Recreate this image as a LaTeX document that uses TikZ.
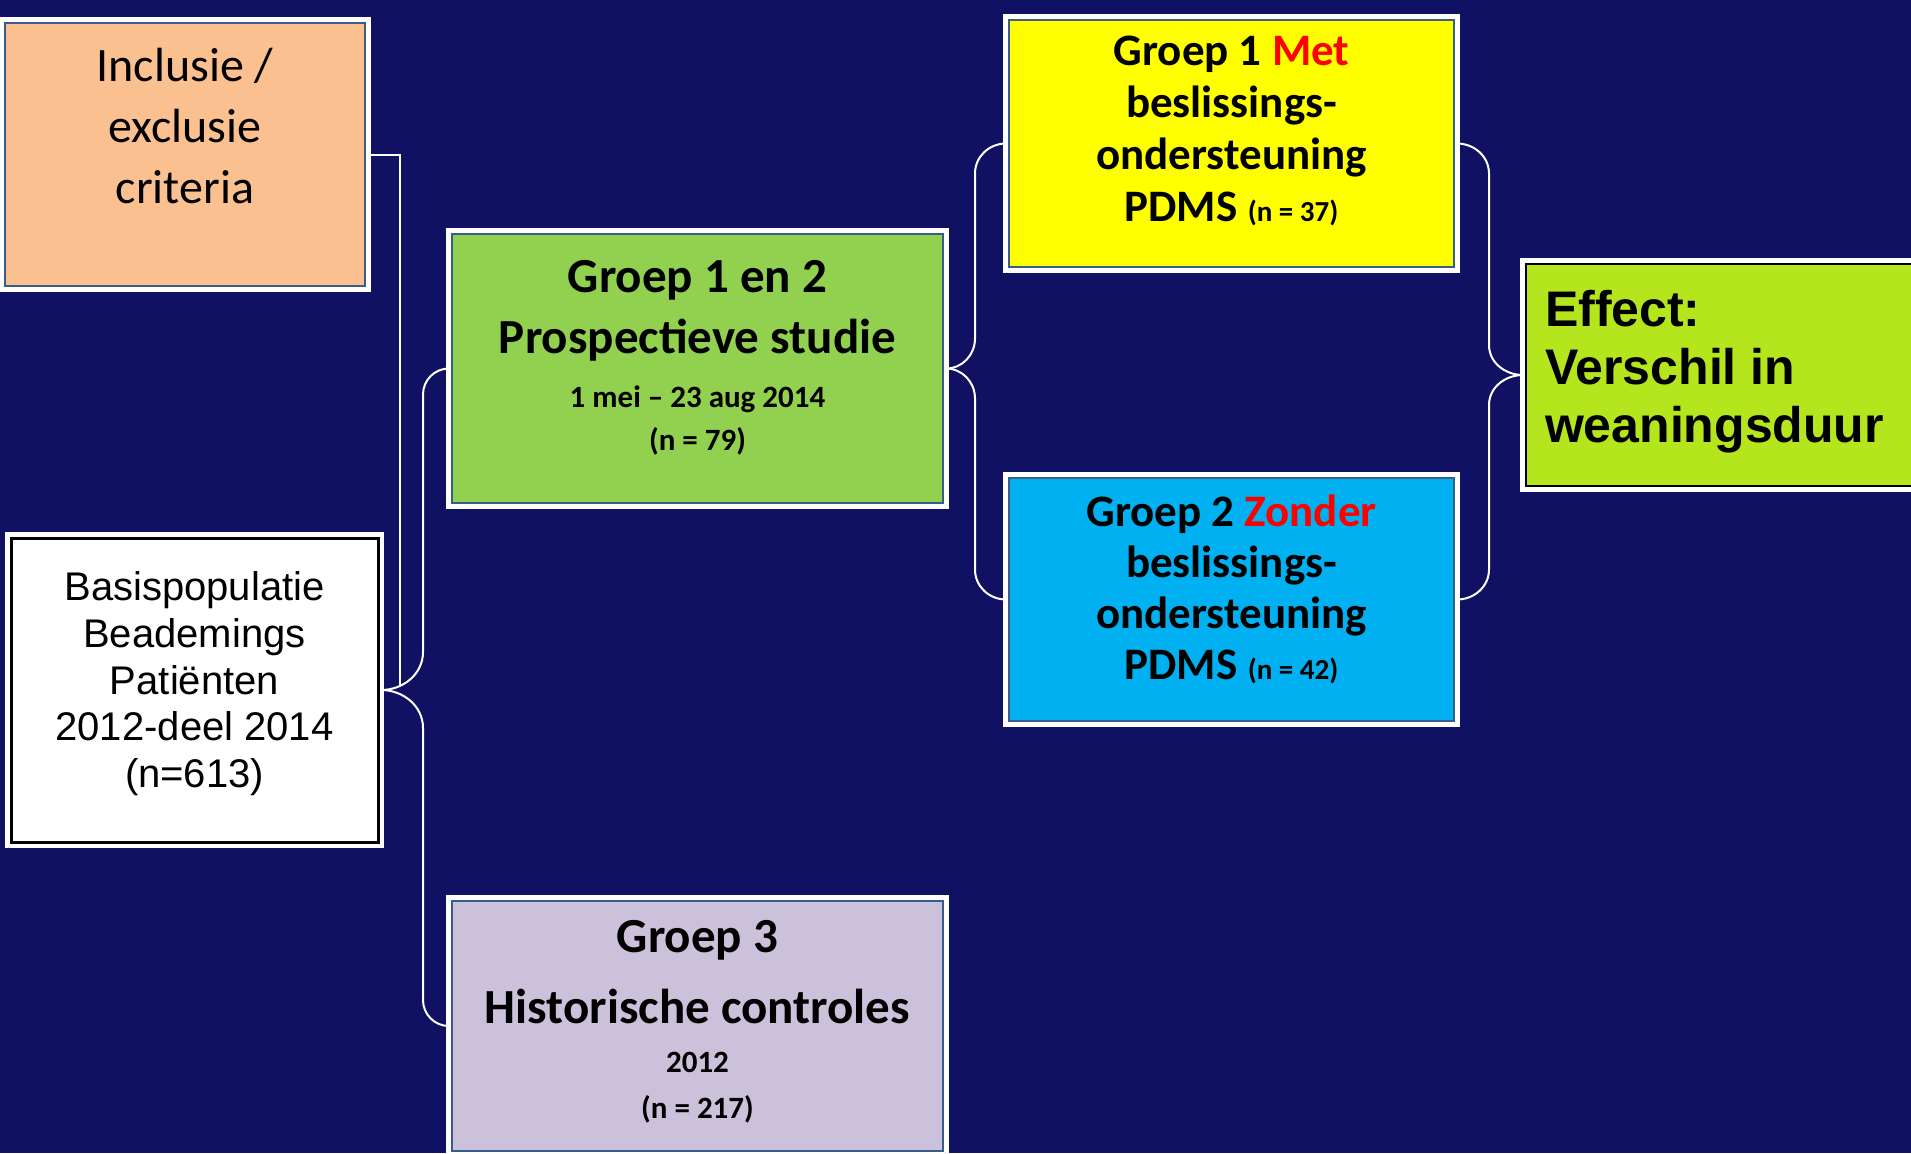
\documentclass[tikz,border=0pt]{standalone}
\usepackage{fontspec}
\setmainfont{Carlito}
\newfontfamily\arialfont{Liberation Sans}
\usetikzlibrary{calc}
\definecolor{navybg}{RGB}{17,17,99}
\definecolor{boxline}{RGB}{56,93,138}
\definecolor{peach}{RGB}{250,192,144}
\definecolor{grgreen}{RGB}{146,208,80}
\definecolor{gryellow}{RGB}{255,255,0}
\definecolor{grblue}{RGB}{0,176,240}
\definecolor{grlilac}{RGB}{204,193,218}
\definecolor{effgreen}{RGB}{181,230,29}
\newcommand{\smallnr}{\fontsize{15.5}{18}\selectfont}
\newcommand{\tinynr}{\fontsize{14.5}{17}\selectfont}

\tikzset{bx/.style={rectangle, draw=boxline, line width=0.8pt, preaction={draw=white, line width=6pt}, inner sep=0pt, outer sep=1.5pt, align=flush center}}
\tikzset{conn/.style={draw=white, line width=1pt}}

\begin{document}
\begin{tikzpicture}[x=0.5pt, y=0.5pt]
\tikzstyle{grp}=[bx, font=\fontsize{24.5}{30.5}\selectfont\bfseries, text width=235pt, minimum width=245.5pt]
\tikzstyle{arm}=[bx, font=\fontsize{22.5}{26}\selectfont\bfseries, text width=215pt, minimum width=222.5pt]
\useasboundingbox (0,0) rectangle (1911,-1153);
\fill[navybg] (0,0) rectangle (1911,-1153);

\node[bx, fill=peach, minimum width=180pt, minimum height=131.5pt, text width=170pt, text depth=90pt, font=\fontsize{24}{30.5}\selectfont] (incl) at (185,-154.5) {Inclusie /\\ exclusie\\ criteria};
\node[bx, draw=black, line width=1.5pt, fill=white, minimum width=183.5pt, minimum height=152pt, text width=175pt, text depth=104pt, font=\arialfont\fontsize{20}{23.4}\selectfont] (basis) at (194.5,-690) {Basispopulatie\\ Beademings\\ Patiënten\\ 2012-deel 2014\\ (n=613)};

\node[grp, fill=grgreen, minimum height=134.5pt, text depth=92pt] (prosp) at (697.5,-368.5) {Groep 1 en 2\\ Prospectieve studie\\[-3.5pt] {\smallnr 1 mei – 23 aug 2014}\\[-9pt] {\smallnr (n = 79)}};
\node[grp, fill=grlilac, minimum height=125pt, text depth=89.5pt] (hist) at (697.5,-1026) {Groep 3\\[5pt] Historische controles\\[-6pt] {\smallnr 2012}\\[-7.5pt] {\smallnr (n = 217)}};

\node[arm, fill=gryellow, minimum height=123.5pt, text depth=92.5pt] (met) at (1231.5,-143.5) {Groep 1 \textcolor{red}{Met}\\ beslissings-\\ ondersteuning\\ PDMS {\tinynr (n = 37)}};
\node[arm, fill=grblue, minimum height=121.5pt, text depth=88.5pt] (zonder) at (1231.5,-599.5) {Groep 2 \textcolor{red}{Zonder}\\[-0.5pt] beslissings-\\[-0.5pt] ondersteuning\\[-0.5pt] PDMS {\tinynr (n = 42)}};

\node[bx, draw=black, line width=1pt, fill=effgreen, minimum width=194.5pt, minimum height=111pt, text width=175.5pt, align=flush left, text depth=66.5pt, font=\arialfont\bfseries\fontsize{25}{29}\selectfont] (effect) at (1720.5,-375) {Effect:\\ Verschil in\\ weaningsduur};

\coordinate (spL) at (423,0);
\coordinate (spM) at (975,0);
\coordinate (spR) at (1489,0);
\coordinate (inclend) at (400,-686);

\draw[conn] (incl.east) -| (inclend);
\draw[conn] (basis.east) to[out=0,in=-90] ++(42,38) -- ($(spL |- prosp.west)+(0,-26)$) to[out=90,in=180] (prosp.west);
\draw[conn] (basis.east) to[out=0,in=90] ++(42,-38) -- ($(spL |- hist.west)+(0,26)$) to[out=-90,in=180] (hist.west);
\draw[conn] (prosp.east) to[out=0,in=-90] ++(29,30) -- ($(spM |- met.west)+(0,-30)$) to[out=90,in=180] (met.west);
\draw[conn] (prosp.east) to[out=0,in=90] ++(29,-30) -- ($(spM |- zonder.west)+(0,30)$) to[out=-90,in=180] (zonder.west);
\draw[conn] (met.east) to[out=0,in=90] ++(32,-30) -- ($(spR |- effect.west)+(0,30)$) to[out=-90,in=180] (effect.west);
\draw[conn] (zonder.east) to[out=0,in=-90] ++(32,30) -- ($(spR |- effect.west)+(0,-30)$) to[out=90,in=180] (effect.west);
\end{tikzpicture}
\end{document}
